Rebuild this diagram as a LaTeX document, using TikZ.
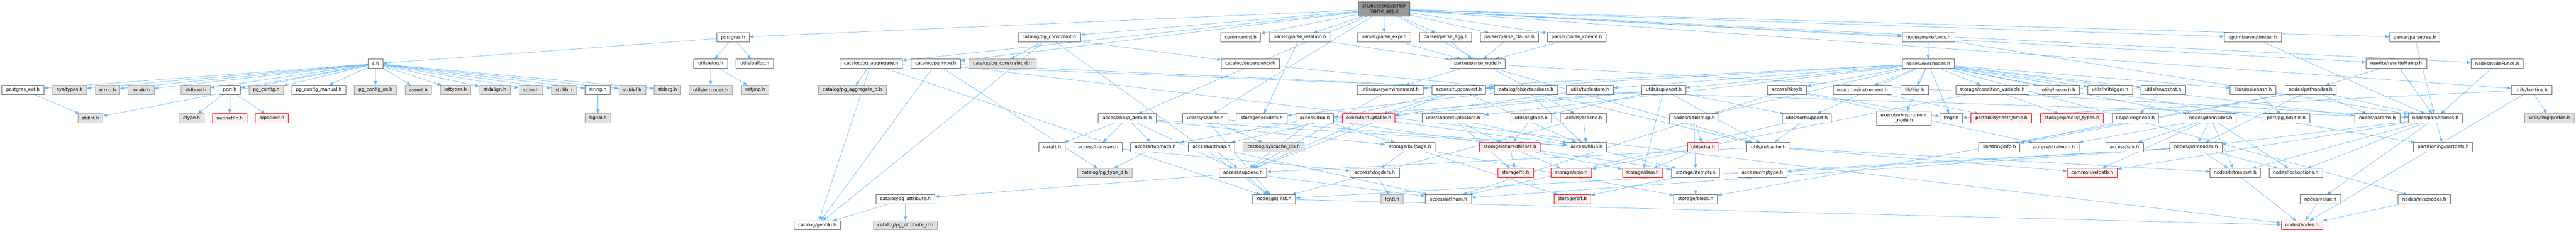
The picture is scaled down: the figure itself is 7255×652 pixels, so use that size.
\documentclass[tikz,border=0pt]{standalone}
\usepackage{fontspec}
\setmainfont{DejaVu Sans}
\usetikzlibrary{arrows.meta,backgrounds}
\pgfdeclarelayer{canvas}
\pgfdeclarelayer{background}
\pgfsetlayers{canvas,background,main}
\definecolor{edgeblue}{HTML}{63B8FF}
\definecolor{bwhite}{HTML}{666666}
\definecolor{fgray}{HTML}{E0E0E0}
\definecolor{bgray}{HTML}{999999}
\definecolor{fred}{HTML}{FFF0F0}
\definecolor{bred}{HTML}{FF0000}
\definecolor{froot}{HTML}{999999}
\newcommand\nd[6]{\node[#1, minimum width={(#4-#3)*0.75pt}] (#2) at ({(#3+#4)/2},#5) {#6};}
\def\ya{105.4}\def\yb{179.2}\def\yc{252.6}\def\yd{333}
\def\ye{413.7}\def\yf{486.9}\def\yg{560.3}\def\yh{634.1}
\tikzset{
  boxbase/.style={draw, rectangle, inner xsep=1pt, inner ysep=0pt, outer sep=0pt,
    minimum height=19.2pt, line width=0.8pt, text=black,
    font=\fontsize{9.6}{11.2}\selectfont},
  wh/.style={boxbase, fill=white, draw=bwhite},
  gy/.style={boxbase, fill=fgray, draw=bgray},
  rd/.style={boxbase, fill=fred, draw=bred},
  rt/.style={boxbase, fill=froot, draw=bwhite},
  lnk/.style={draw=edgeblue, line width=0.75pt, -{Triangle[length=9pt,width=6.5pt]}}
}
\begin{document}
\begin{tikzpicture}[x=0.75pt,y=-0.75pt]
\begin{pgfonlayer}{canvas}
\fill[white] (0,0) rectangle (7255,652);
\end{pgfonlayer}
\useasboundingbox (0,0) rectangle (7255,652);
% root
\node[rt, minimum width={144*0.75pt}, minimum height=30.5pt, align=center] (root) at (3898,25.4) {src/backend/parser\\/parse\_agg.c};
% rank 1
\nd{wh}{postgres}{2019}{2110}{\ya}{postgres.h}
\nd{wh}{pgconstraint}{2867}{3043}{\ya}{catalog/pg\_constraint.h}
\nd{wh}{commonint}{3438}{3550}{\ya}{common/int.h}
\nd{wh}{parserel}{3575}{3746}{\ya}{parser/parse\_relation.h}
\nd{wh}{parseexpr}{3823}{3973}{\ya}{parser/parse\_expr.h}
\nd{wh}{parseaggh}{3998}{4145}{\ya}{parser/parse\_agg.h}
\nd{wh}{parseclause}{4169}{4333}{\ya}{parser/parse\_clause.h}
\nd{wh}{parsecoerce}{4358}{4523}{\ya}{parser/parse\_coerce.h}
\nd{wh}{makefuncs}{5357}{5505}{\ya}{nodes/makefuncs.h}
\nd{wh}{optimizer}{6264}{6425}{\ya}{optimizer/optimizer.h}
\nd{wh}{parsetree}{6730}{6871}{\ya}{parser/parsetree.h}
% rank 2
\nd{wh}{ch}{1037}{1079}{\yb}{c.h}
\nd{wh}{elog}{1954}{2049}{\yb}{utils/elog.h}
\nd{wh}{palloc}{2073}{2179}{\yb}{utils/palloc.h}
\nd{wh}{pgagg}{2366}{2541}{\yb}{catalog/pg\_aggregate.h}
\nd{wh}{pgtype}{2566}{2705}{\yb}{catalog/pg\_type.h}
\nd{gy}{pgconstrd}{2729}{2918}{\yb}{catalog/pg\_constraint\_d.h}
\nd{wh}{dependency}{3440}{3603}{\yb}{catalog/dependency.h}
\nd{wh}{parsenode}{4084}{4239}{\yb}{parser/parse\_node.h}
\nd{wh}{execnodes}{5357}{5504}{\yb}{nodes/execnodes.h}
\nd{wh}{rewritemanip}{6663}{6834}{\yb}{rewrite/rewriteManip.h}
\nd{wh}{nodefuncs}{6959}{7106}{\yb}{nodes/nodeFuncs.h}
% rank 3
\nd{wh}{pgext}{5}{124}{\yc}{postgres\_ext.h}
\nd{gy}{systypes}{148}{244}{\yc}{sys/types.h}
\nd{gy}{errno}{269}{337}{\yc}{errno.h}
\nd{gy}{locale}{361}{435}{\yc}{locale.h}
\nd{gy}{stdbool}{510}{592}{\yc}{stdbool.h}
\nd{wh}{port}{617}{677}{\yc}{port.h}
\nd{gy}{pgconfig}{702}{798}{\yc}{pg\_config.h}
\nd{wh}{pgconfman}{822}{974}{\yc}{pg\_config\_manual.h}
\nd{gy}{pgconfos}{998}{1117}{\yc}{pg\_config\_os.h}
\nd{gy}{assert}{1141}{1215}{\yc}{assert.h}
\nd{gy}{inttypes}{1240}{1326}{\yc}{inttypes.h}
\nd{gy}{stdalign}{1351}{1437}{\yc}{stdalign.h}
\nd{gy}{stdio}{1462}{1529}{\yc}{stdio.h}
\nd{gy}{stdlib}{1553}{1624}{\yc}{stdlib.h}
\nd{wh}{string}{1648}{1719}{\yc}{string.h}
\nd{gy}{stddef}{1743}{1818}{\yc}{stddef.h}
\nd{gy}{stdarg}{1842}{1917}{\yc}{stdarg.h}
\nd{gy}{errcodes}{1940}{2063}{\yc}{utils/errcodes.h}
\nd{gy}{setjmp}{2088}{2166}{\yc}{setjmp.h}
\nd{gy}{pgaggd}{2305}{2496}{\yc}{catalog/pg\_aggregate\_d.h}
\nd{wh}{queryenv}{3822}{4008}{\yc}{utils/queryenvironment.h}
\nd{wh}{tupconvert}{4033}{4184}{\yc}{access/tupconvert.h}
\nd{wh}{objaddr}{4209}{4387}{\yc}{catalog/objectaddress.h}
\nd{wh}{tuplestore}{4412}{4544}{\yc}{utils/tuplestore.h}
\nd{wh}{tuplesort}{4624}{4748}{\yc}{utils/tuplesort.h}
\nd{wh}{skey}{4977}{5088}{\yc}{access/skey.h}
\nd{wh}{instrument}{5163}{5328}{\yc}{executor/instrument.h}
\nd{wh}{ilist}{5353}{5432}{\yc}{lib/ilist.h}
\nd{wh}{condvar}{5508}{5714}{\yc}{storage/condition\_variable.h}
\nd{wh}{hsearch}{5739}{5856}{\yc}{utils/hsearch.h}
\nd{wh}{reltrigger}{5880}{6006}{\yc}{utils/reltrigger.h}
\nd{wh}{snapshot}{6030}{6155}{\yc}{utils/snapshot.h}
\nd{wh}{simplehash}{6281}{6410}{\yc}{lib/simplehash.h}
\nd{wh}{pathnodes}{6435}{6580}{\yc}{nodes/pathnodes.h}
\nd{wh}{builtins}{7072}{7187}{\yc}{utils/builtins.h}
% rank 4
\nd{gy}{stdint}{220}{290}{\yd}{stdint.h}
\nd{gy}{ctype}{504}{575}{\yd}{ctype.h}
\nd{rd}{netinet}{599}{695}{\yd}{netinet/in.h}
\nd{rd}{arpainet}{719}{812}{\yd}{arpa/inet.h}
\nd{gy}{signal}{1647}{1720}{\yd}{signal.h}
\nd{wh}{htupdetails}{3093}{3256}{\yd}{access/htup\_details.h}
\nd{wh}{syscache}{3331}{3458}{\yd}{utils/syscache.h}
\nd{wh}{lockdefs}{3482}{3625}{\yd}{storage/lockdefs.h}
\nd{wh}{itup}{3650}{3756}{\yd}{access/itup.h}
\nd{rd}{tuptable}{3781}{3929}{\yd}{executor/tuptable.h}
\nd{wh}{sharedts}{4005}{4180}{\yd}{utils/sharedtuplestore.h}
\nd{wh}{logtape}{4255}{4370}{\yd}{utils/logtape.h}
\nd{wh}{lsyscache}{4394}{4524}{\yd}{utils/lsyscache.h}
\nd{wh}{tidbitmap}{4701}{4841}{\yd}{nodes/tidbitmap.h}
\nd{wh}{sortsupport}{5019}{5158}{\yd}{utils/sortsupport.h}
\node[wh, minimum width={154*0.75pt}, minimum height=30.5pt, align=center] (instrnode) at (5362,333) {executor/instrument\\\_node.h};
\nd{wh}{fmgr}{5463}{5527}{\yd}{fmgr.h}
\nd{rd}{instrtime}{5551}{5722}{\yd}{portability/instr\_time.h}
\nd{rd}{proclist}{5746}{5924}{\yd}{storage/proclist\_types.h}
\nd{wh}{pairingheap}{5949}{6079}{\yd}{lib/pairingheap.h}
\nd{wh}{plannodes}{6154}{6298}{\yd}{nodes/plannodes.h}
\nd{wh}{pgbitutils}{6373}{6505}{\yd}{port/pg\_bitutils.h}
\nd{wh}{params}{6632}{6759}{\yd}{nodes/params.h}
\nd{wh}{parsenodes}{6783}{6935}{\yd}{nodes/parsenodes.h}
\nd{gy}{fmgrprotos}{7111}{7250}{\yd}{utils/fmgrprotos.h}
% rank 5
\nd{wh}{varatt}{2926}{3000}{\ye}{varatt.h}
\nd{wh}{transam}{3025}{3161}{\ye}{access/transam.h}
\nd{wh}{tupmacs}{3184}{3323}{\ye}{access/tupmacs.h}
\nd{wh}{attmap}{3347}{3477}{\ye}{access/attmap.h}
\nd{gy}{syscacheids}{3501}{3673}{\ye}{catalog/syscache\_ids.h}
\nd{wh}{bufpage}{3901}{4041}{\ye}{storage/bufpage.h}
\nd{rd}{sharedfileset}{4167}{4338}{\ye}{storage/sharedfileset.h}
\nd{wh}{htup}{4413}{4524}{\ye}{access/htup.h}
\nd{rd}{dsa}{4752}{4841}{\ye}{utils/dsa.h}
\nd{wh}{relcache}{4920}{5041}{\ye}{utils/relcache.h}
\nd{wh}{stringinfo}{5573}{5689}{\ye}{lib/stringinfo.h}
\nd{wh}{stratnum}{5714}{5855}{\ye}{access/stratnum.h}
\nd{wh}{sdir}{5930}{6036}{\ye}{access/sdir.h}
\nd{wh}{primnodes}{6111}{6258}{\ye}{nodes/primnodes.h}
\nd{wh}{partdefs}{6797}{6964}{\ye}{partitioning/partdefs.h}
% rank 6
\nd{gy}{pgtyped}{3034}{3188}{\yf}{catalog/pg\_type\_d.h}
\nd{wh}{tupdesc}{3434}{3567}{\yf}{access/tupdesc.h}
\nd{wh}{xlogdefs}{3802}{3941}{\yf}{access/xlogdefs.h}
\nd{rd}{fd}{4218}{4318}{\yf}{storage/fd.h}
\nd{rd}{spin}{4368}{4483}{\yf}{storage/spin.h}
\nd{rd}{dsm}{4569}{4683}{\yf}{storage/dsm.h}
\nd{wh}{itemptr}{4708}{4843}{\yf}{storage/itemptr.h}
\nd{wh}{cmptype}{4894}{5033}{\yf}{access/cmptype.h}
\nd{rd}{relpath}{5822}{5963}{\yf}{common/relpath.h}
\nd{wh}{bitmapset}{6224}{6366}{\yf}{nodes/bitmapset.h}
\nd{wh}{lockoptions}{6390}{6541}{\yf}{nodes/lockoptions.h}
% rank 7
\nd{wh}{pgattr}{2467}{2633}{\yg}{catalog/pg\_attribute.h}
\nd{wh}{pglist}{3528}{3649}{\yg}{nodes/pg\_list.h}
\nd{gy}{fcntl}{3889}{3952}{\yg}{fcntl.h}
\nd{wh}{attnum}{4014}{4144}{\yg}{access/attnum.h}
\nd{rd}{off}{4376}{4480}{\yg}{storage/off.h}
\nd{wh}{block}{4714}{4837}{\yg}{storage/block.h}
\nd{wh}{value}{6478}{6592}{\yg}{nodes/value.h}
\nd{wh}{miscnodes}{6754}{6901}{\yg}{nodes/miscnodes.h}
% rank 8
\nd{wh}{genbki}{2237}{2367}{\yh}{catalog/genbki.h}
\nd{gy}{pgattrd}{2460}{2640}{\yh}{catalog/pg\_attribute\_d.h}
\nd{rd}{nodes}{6425}{6541}{\yh}{nodes/nodes.h}
% edges
\begin{pgfonlayer}{background}
\foreach \s/\t in {
 root/postgres, root/htupdetails, root/pgagg, root/pgconstraint, root/pgtype, root/commonint,
 root/makefuncs, root/nodefuncs, root/optimizer, root/parseaggh, root/parseclause, root/parsecoerce,
 root/parseexpr, root/parserel, root/parsetree, root/rewritemanip, root/builtins, root/lsyscache, root/syscache,
 postgres/ch, postgres/elog, postgres/palloc,
 ch/pgext, ch/systypes, ch/errno, ch/locale, ch/stdbool, ch/stdint, ch/port, ch/pgconfig, ch/pgconfman,
 ch/pgconfos, ch/assert, ch/inttypes, ch/stdalign, ch/stdio, ch/stdlib, ch/string, ch/stddef, ch/stdarg,
 pgext/stdint, port/ctype, port/netinet, port/arpainet, string/signal, elog/errcodes, elog/setjmp,
 pgagg/genbki, pgagg/pgaggd, pgagg/objaddr, pgagg/pglist,
 pgtype/genbki, pgtype/objaddr, pgtype/pgtyped, pgtype/nodes,
 pgconstraint/genbki, pgconstraint/pgconstrd, pgconstraint/dependency, pgconstraint/pglist,
 dependency/objaddr, parserel/parsenode, parserel/lockdefs,
 parseexpr/parsenode, parseaggh/parsenode, parseclause/parsenode, parsecoerce/parsenode,
 parsenode/queryenv, parsenode/parsenodes, parsenode/relcache, queryenv/tupdesc,
 objaddr/htup, objaddr/lockdefs, objaddr/relcache, objaddr/parsenodes,
 tupconvert/attmap, tupconvert/htup, tupconvert/tupdesc, tupconvert/tuptable,
 tuptable/htup, tuptable/tupdesc,
 htupdetails/htup, htupdetails/transam, htupdetails/tupdesc, htupdetails/tupmacs, htupdetails/bufpage, htupdetails/varatt,
 htup/itemptr, transam/xlogdefs, tupmacs/pgtyped, attmap/attnum, attmap/tupdesc,
 tupdesc/attnum, tupdesc/pgattr, tupdesc/pglist, pgattr/genbki, pgattr/pgattrd, pglist/nodes,
 syscache/syscacheids, syscache/htup, syscache/pglist, lsyscache/htup, lsyscache/pglist,
 itup/tupdesc, itup/tupmacs, itup/bufpage, itup/itemptr,
 bufpage/xlogdefs, bufpage/block, bufpage/off, xlogdefs/fcntl,
 sharedts/sharedfileset, sharedts/fd, sharedts/htup,
 sharedfileset/fd, sharedfileset/spin, sharedfileset/dsm, logtape/sharedfileset,
 tuplesort/itup, tuplesort/tuptable, tuplesort/logtape, tuplesort/relcache, tuplesort/sortsupport, tuplesort/dsm,
 tuplestore/tuptable, tidbitmap/dsa, tidbitmap/itemptr, dsa/dsm, itemptr/block, itemptr/off,
 execnodes/tupconvert, execnodes/instrument, execnodes/ilist, execnodes/condvar, execnodes/hsearch,
 execnodes/reltrigger, execnodes/snapshot, execnodes/simplehash, execnodes/skey, execnodes/tuplesort,
 execnodes/tuplestore, execnodes/queryenv, execnodes/sharedts, execnodes/tidbitmap, execnodes/sortsupport,
 execnodes/instrnode, execnodes/fmgr, execnodes/plannodes, execnodes/params, execnodes/miscnodes, execnodes/partdefs,
 makefuncs/execnodes, makefuncs/parsenodes, instrument/instrtime, condvar/proclist, condvar/spin,
 pairingheap/stringinfo, skey/attnum, skey/stratnum, skey/fmgr, sortsupport/relcache, sortsupport/attnum,
 relcache/tupdesc, relcache/relpath, relcache/bitmapset, snapshot/pairingheap, simplehash/pgbitutils,
 pathnodes/params, pathnodes/parsenodes, pathnodes/stringinfo, pathnodes/primnodes, pathnodes/block,
 plannodes/primnodes, plannodes/bitmapset, plannodes/lockoptions, plannodes/sdir, plannodes/stratnum, plannodes/relpath,
 primnodes/bitmapset, primnodes/lockoptions, primnodes/pglist, primnodes/attnum, primnodes/cmptype,
 parsenodes/partdefs, parsenodes/bitmapset, parsenodes/lockoptions, parsenodes/primnodes, parsenodes/value, parsenodes/relpath,
 bitmapset/nodes, value/nodes, miscnodes/nodes,
 parsetree/parsenodes, rewritemanip/parsenodes, rewritemanip/pathnodes, nodefuncs/parsenodes, optimizer/parsenodes,
 builtins/fmgrprotos, builtins/fmgr, builtins/nodes}
 \draw[lnk] (\s) -- (\t);
\end{pgfonlayer}
\end{tikzpicture}
\end{document}
